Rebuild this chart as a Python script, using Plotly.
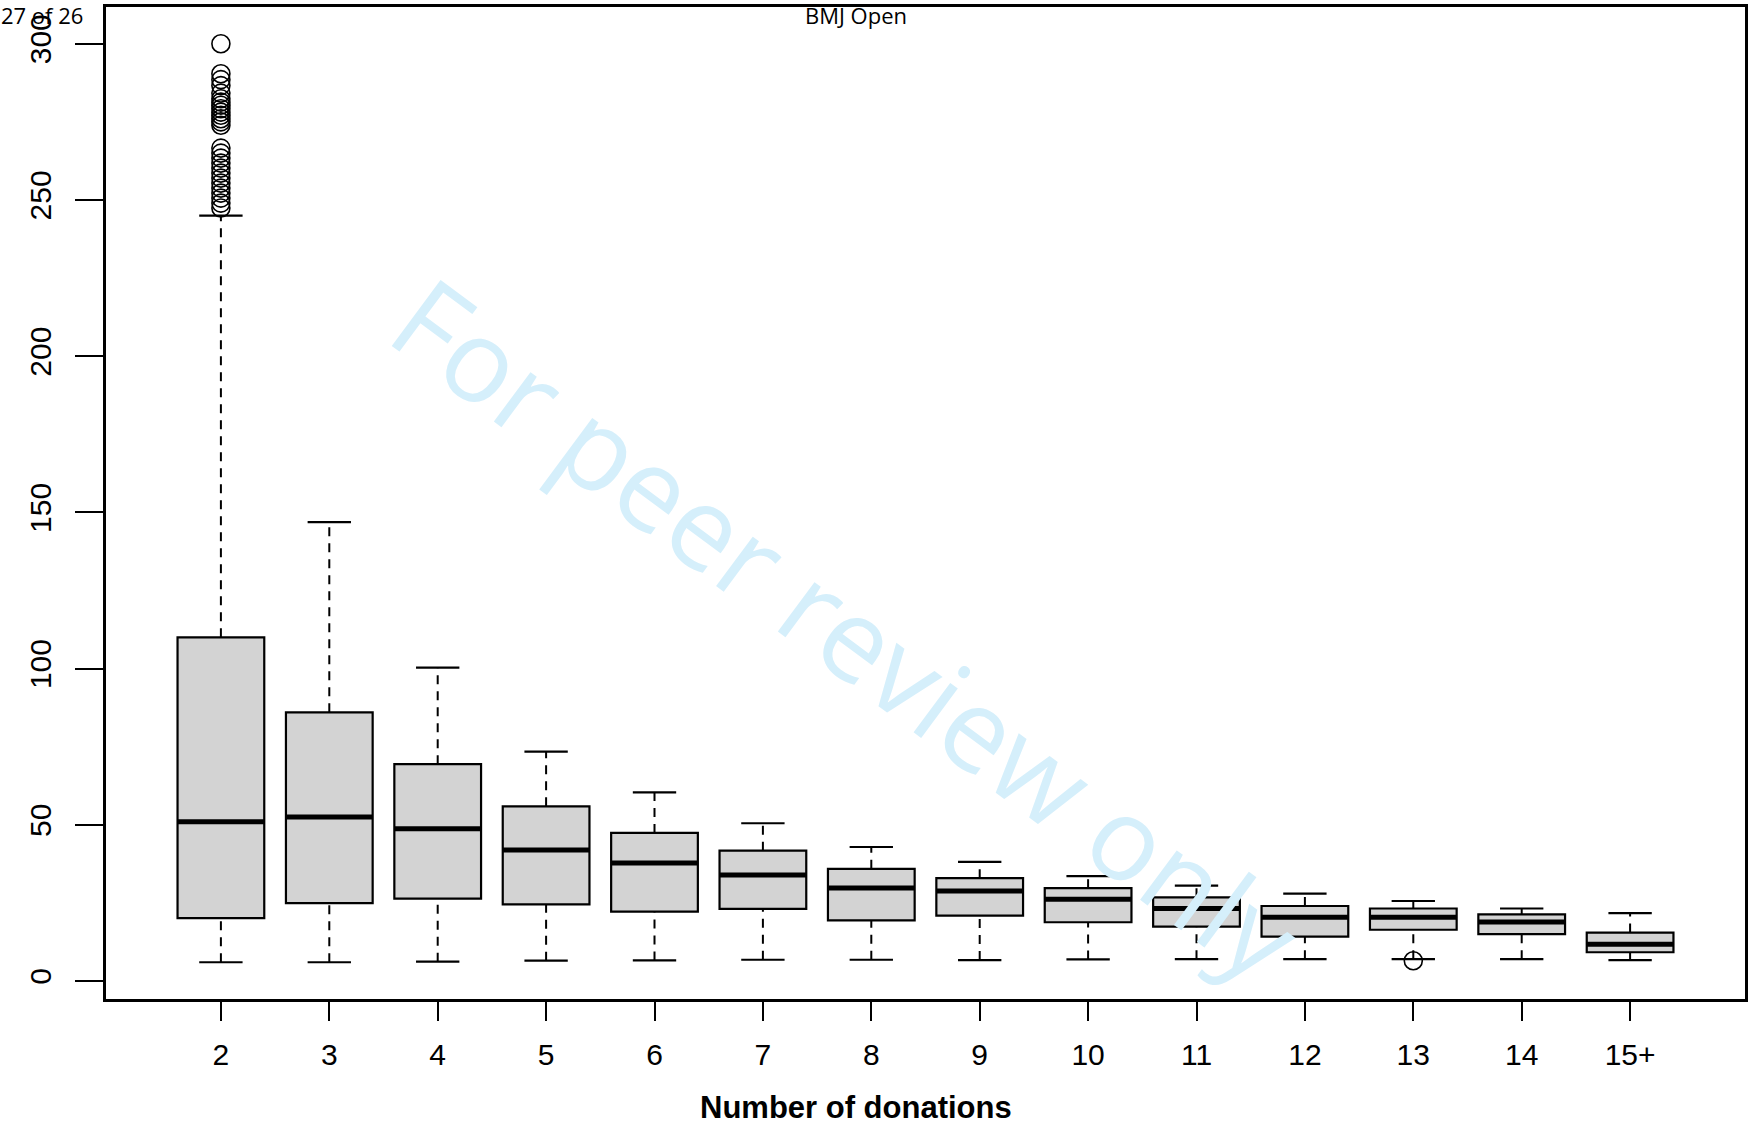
import plotly.graph_objects as go

# ---- data ----
categories = ["2", "3", "4", "5", "6", "7", "8", "9", "10", "11", "12", "13", "14", "15+"]
positions = list(range(1, len(categories) + 1))
lower_whisker = [6.0, 6.0, 6.2, 6.5, 6.6, 6.8, 6.8, 6.7, 6.9, 7.0, 7.0, 7.0, 7.0, 6.7]
q1 = [20.1, 24.9, 26.4, 24.5, 22.2, 23.1, 19.4, 20.9, 18.8, 17.4, 14.2, 16.4, 15.0, 9.2]
median = [51.0, 52.5, 48.7, 41.9, 37.8, 33.9, 29.8, 28.8, 26.2, 23.2, 20.4, 20.4, 18.9, 11.8]
q3 = [110.0, 86.0, 69.4, 55.9, 47.4, 41.7, 35.9, 32.9, 29.7, 26.8, 24.0, 23.2, 21.3, 15.5]
upper_whisker = [245.0, 146.9, 100.3, 73.4, 60.4, 50.5, 42.9, 38.1, 33.6, 30.5, 28.0, 25.6, 23.2, 21.7]

outlier_group = ["2"] * 27 + ["13"]
outlier_values = [300.0, 290.4, 288.5, 286.6, 284.2, 282.4, 281.3, 280.3, 279.2, 278.1,
                  277.1, 276.0, 275.0, 273.9,
                  266.6, 265.0, 263.4, 261.8, 260.2, 258.6, 257.0, 255.4, 253.8, 252.2,
                  250.6, 249.0, 247.4,
                  6.5]

y_ticks = [0, 50, 100, 150, 200, 250, 300]
x_title = "Number of donations"
page_label = "27 of 26"
journal_label = "BMJ Open"
watermark = "For peer review only"

# ---- style constants ----
BOX_W = 0.8
CAP_W = 0.4
FONT = "Liberation Sans, Arial, sans-serif"

pos_of = dict(zip(categories, positions))

fig = go.Figure()

# dashed whiskers
wx, wy = [], []
for p, lo, a, b, hi in zip(positions, lower_whisker, q1, q3, upper_whisker):
    wx += [p, p, None, p, p, None]
    wy += [lo, a, None, b, hi, None]
fig.add_trace(go.Scatter(x=wx, y=wy, mode="lines", line=dict(color="black", width=2, dash="9px,7px"),
                         hoverinfo="skip", showlegend=False))

# boxes
fig.add_trace(go.Box(x=positions, q1=q1, median=median, q3=q3, lowerfence=q1, upperfence=q3,
                     width=BOX_W, whiskerwidth=0, fillcolor="#d3d3d3",
                     line=dict(color="black", width=2.2), boxpoints=False, showlegend=False))

# thick medians
mx, my = [], []
for p, m in zip(positions, median):
    mx += [p - BOX_W / 2, p + BOX_W / 2, None]
    my += [m, m, None]
fig.add_trace(go.Scatter(x=mx, y=my, mode="lines", line=dict(color="black", width=5),
                         hoverinfo="skip", showlegend=False))

# whisker caps
cx, cy = [], []
for p, lo, hi in zip(positions, lower_whisker, upper_whisker):
    cx += [p - CAP_W / 2, p + CAP_W / 2, None, p - CAP_W / 2, p + CAP_W / 2, None]
    cy += [lo, lo, None, hi, hi, None]
fig.add_trace(go.Scatter(x=cx, y=cy, mode="lines", line=dict(color="black", width=2.2),
                         hoverinfo="skip", showlegend=False))

# outliers
fig.add_trace(go.Scatter(x=[pos_of[g] for g in outlier_group], y=outlier_values, mode="markers",
                         marker=dict(symbol="circle-open", size=18, color="black", line=dict(width=1.6)),
                         hoverinfo="skip", showlegend=False))

fig.update_layout(
    width=1752, height=1130, autosize=False,
    margin=dict(l=106, r=4, t=7, b=131, pad=0),
    paper_bgcolor="white", plot_bgcolor="white",
    font=dict(family=FONT, size=30, color="black"),
    xaxis=dict(range=[-0.06, len(categories) + 1.06], tickmode="array", tickvals=positions,
               ticktext=categories, ticks="outside", ticklen=19, tickwidth=2, tickcolor="black",
               showline=True, linecolor="black", linewidth=2.5, mirror=True,
               showgrid=False, zeroline=False, tickfont=dict(size=30, family=FONT),
               ticklabelstandoff=8),
    yaxis=dict(range=[-5.76, 311.76], tickmode="array", tickvals=y_ticks,
               ticks="outside", ticklen=28, tickwidth=2, tickcolor="black", tickangle=-90,
               showline=True, linecolor="black", linewidth=2.5, mirror=True,
               showgrid=False, zeroline=False, tickfont=dict(size=30, family=FONT),
               ticklabelstandoff=12),
    annotations=[
        dict(text="<b>" + x_title + "</b>", xref="paper", yref="paper", x=0.4574, y=-0.1089,
             xanchor="center", yanchor="middle", showarrow=False,
             font=dict(family=FONT, size=31, color="black")),
        dict(text=page_label, xref="paper", yref="paper", x=-0.0646, y=1.008,
             xanchor="left", yanchor="top", showarrow=False, borderpad=0,
             font=dict(family="Open Sans, sans-serif", size=22, color="black")),
        dict(text=journal_label, xref="paper", yref="paper", x=0.4574, y=1.008,
             xanchor="center", yanchor="top", showarrow=False, borderpad=0,
             font=dict(family="Open Sans, sans-serif", size=22, color="black")),
        dict(text=watermark, xref="paper", yref="paper", x=0.452, y=0.374,
             xanchor="center", yanchor="middle", showarrow=False, textangle=36.5,
             font=dict(family="Open Sans, sans-serif", size=115, color="#d5effb")),
    ],
)

fig.write_html("out.html", config={"displayModeBar": False},
               post_script="document.body.style.margin='0';document.body.style.overflow='hidden';")
